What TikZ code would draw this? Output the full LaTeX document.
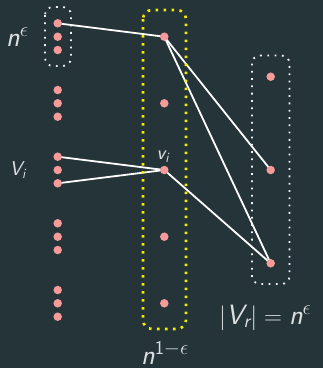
\documentclass[tikz,border=0pt]{standalone}
\usepackage{amsmath}
\pgfdeclarelayer{bglayer}
\pgfdeclarelayer{edgelayer}
\pgfsetlayers{bglayer,edgelayer,main}
\definecolor{bgc}{HTML}{253439}
\definecolor{dotc}{HTML}{F79A9A}
\definecolor{txtc}{HTML}{DCDFE0}
\definecolor{yel}{HTML}{F2EC00}
\tikzset{
  vtx/.style={circle,fill=dotc,draw=none,minimum size=8.5pt,inner sep=0pt},
  edge/.style={draw=white,line width=1.8pt},
  ybox/.style={draw=yel,line width=2.6pt,dash pattern=on 2.6pt off 5.4pt,rounded corners=9pt},
  wbox/.style={draw=white!90!gray,line width=1.8pt,dash pattern=on 1.8pt off 5.5pt,rounded corners=8pt},
  big/.style={text=txtc,font=\fontsize{28}{30}\selectfont\sffamily,inner sep=0pt,anchor=base west},
  small/.style={text=txtc,font=\fontsize{20}{24}\selectfont\sffamily,inner sep=0pt,anchor=base west}
}
\newcommand{\ssl}[1]{\text{\sffamily\slshape #1}}
\begin{document}
\begin{tikzpicture}[x=1pt,y=-1pt]
\begin{pgfonlayer}{bglayer}
\fill[bgc] (0,0) rectangle (323,368);
\end{pgfonlayer}
\useasboundingbox (0,0) rectangle (323,368);
% left column
\foreach \i/\y in {1/23.3,2/36.7,3/50,4/90,5/103.3,6/116.7,7/156.7,8/170,9/183.3,10/223.3,11/236.7,12/250,13/290,14/303.3,15/316.7}
  \node[vtx] (l\i) at (57.7,\y) {};
% middle column
\foreach \i/\y in {1/36.7,2/103.3,3/170,4/236.7,5/303.3}
  \node[vtx] (m\i) at (164.3,\y) {};
% right column
\foreach \i/\y in {1/76.7,2/170,3/263.3}
  \node[vtx] (r\i) at (270.7,\y) {};
% boxes
\draw[wbox] (45,7) rectangle (71,66);
\draw[ybox] (143,10) rectangle (186,329);
\draw[wbox] (252,55.5) rectangle (289.5,284);
% edges
\begin{pgfonlayer}{edgelayer}
\draw[edge] (l1.center) -- (m1.center);
\draw[edge] (m1.center) -- (r2.center);
\draw[edge] (m1.center) -- (r3.center);
\draw[edge] (l7.center) -- (m3.center);
\draw[edge] (l9.center) -- (m3.center);
\draw[edge] (m3.center) -- (r3.center);
\end{pgfonlayer}
% labels
\node[big] (lne) at (6,46) {$\ssl{n}^{\epsilon}$};
\node[small] (lVi) at (9.5,175) {$\ssl{V}_{\ssl{i}}$};
\node[small] (lvi) at (156.5,159) {$\ssl{v}_{\ssl{i}}$};
\node[big] (lnb) at (141,364) {$\ssl{n}^{\text{\sffamily 1}-\epsilon}$};
\node[big] (lVr) at (219,324) {$|\ssl{V}_{\ssl{r}}|=\ssl{n}^{\epsilon}$};
\end{tikzpicture}
\end{document}
